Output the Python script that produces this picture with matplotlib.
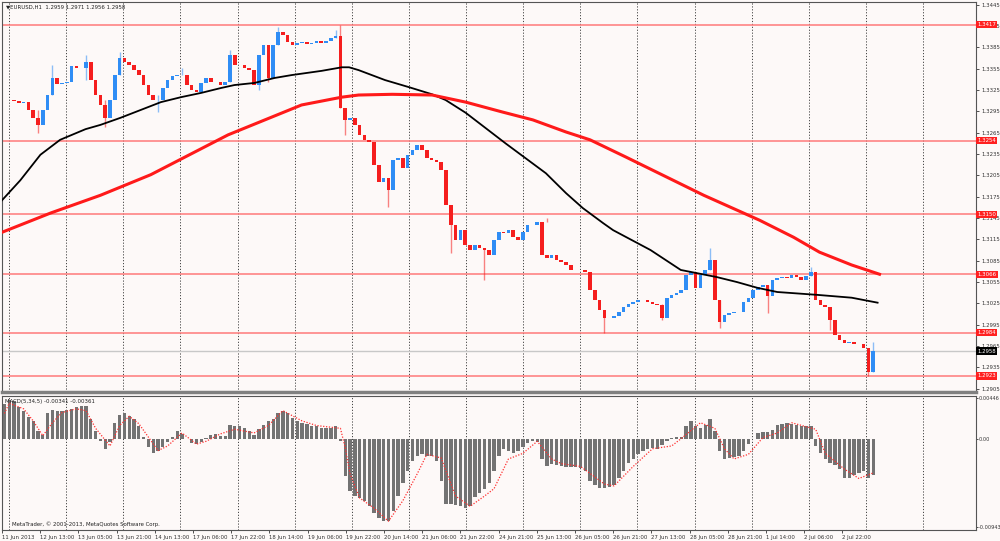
import numpy as np
import matplotlib
matplotlib.use("Agg")
import matplotlib.pyplot as plt
import matplotlib.transforms as mtransforms

plt.rcParams['font.family'] = ['DejaVu Sans']

# EURUSD H1, one candle per two hours, closes
closes = [
    1.3311, 1.3311, 1.3310, 1.3307, 1.3308, 1.3297, 1.3286, 1.3276, 1.3297, 1.3318,
    1.3342, 1.3334, 1.3335, 1.3336, 1.3359, 1.3356, 1.3356, 1.3364, 1.3339, 1.3318,
    1.3304, 1.3286, 1.3311, 1.3346, 1.3370, 1.3364, 1.3360, 1.3353, 1.3346, 1.3332,
    1.3318, 1.3311, 1.3311, 1.3328, 1.3339, 1.3345, 1.3346, 1.3346, 1.3332, 1.3325,
    1.3322, 1.3335, 1.3342, 1.3336, 1.3336, 1.3332, 1.3336, 1.3374, 1.3360, 1.3360,
    1.3356, 1.3353, 1.3332, 1.3374, 1.3388, 1.3342, 1.3388, 1.3407, 1.3402, 1.3393,
    1.3388, 1.3391, 1.3393, 1.3390, 1.3391, 1.3394, 1.3391, 1.3394, 1.3398, 1.3401,
    1.3300, 1.3283, 1.3286, 1.3276, 1.3262, 1.3255, 1.3252, 1.3220, 1.3196, 1.3201,
    1.3184, 1.3227, 1.3229, 1.3215, 1.3234, 1.3241, 1.3248, 1.3241, 1.3229, 1.3227,
    1.3224, 1.3213, 1.3163, 1.3135, 1.3114, 1.3128, 1.3107, 1.3100, 1.3107, 1.3103,
    1.3100, 1.3093, 1.3114, 1.3125, 1.3124, 1.3128, 1.3118, 1.3114, 1.3125, 1.3135,
    1.3135, 1.3139, 1.3093, 1.3089, 1.3093, 1.3086, 1.3083, 1.3079, 1.3072, 1.3072,
    1.3072, 1.3069, 1.3044, 1.3030, 1.3016, 1.3004, 1.3004, 1.3007, 1.3013, 1.3020,
    1.3024, 1.3027, 1.3030, 1.3030, 1.3027, 1.3024, 1.3023, 1.3004, 1.3033, 1.3037,
    1.3040, 1.3044, 1.3065, 1.3069, 1.3047, 1.3065, 1.3072, 1.3086, 1.3030, 1.2999,
    1.3009, 1.3011, 1.3013, 1.3013, 1.3027, 1.3033, 1.3044, 1.3048, 1.3051, 1.3035,
    1.3058, 1.3061, 1.3062, 1.3061, 1.3065, 1.3062, 1.3058, 1.3064, 1.3069, 1.3030,
    1.3023, 1.3020, 1.3002, 1.2981, 1.2974, 1.2969, 1.2971, 1.2968, 1.2968, 1.2962,
    1.2929, 1.2958,
]
first_open = 1.3311

# visible wicks (candle index, high, low)
wick_idx = [7, 10, 17, 21, 24, 32, 37, 47, 53, 55, 57, 69, 70, 71, 80, 93, 100,
            113, 125, 137, 147, 149, 159, 168, 172, 180, 181]
wick_high = [1.3297, 1.3360, 1.3374, 1.3311, 1.3378, 1.3318, 1.3356, 1.3381, 1.3374, 1.3388,
             1.3414, 1.3409, 1.3417, 1.3300, 1.3201, 1.3163, 1.3103, 1.3145, 1.3016, 1.3024,
             1.3103, 1.3030, 1.3051, 1.3076, 1.3020, 1.2962, 1.2971]
wick_low = [1.3265, 1.3318, 1.3339, 1.3273, 1.3346, 1.3294, 1.3346, 1.3336, 1.3325, 1.3336,
            1.3388, 1.3398, 1.3300, 1.3262, 1.3160, 1.3096, 1.3058, 1.3139, 1.2983, 1.3002,
            1.3072, 1.2990, 1.3011, 1.3064, 1.2987, 1.2923, 1.2929]

# moving averages (candle index, price)
ma_black_x = [-0.5, 3.3, 7.5, 11.6, 16.9, 20, 24.2, 28.4, 32.6, 36.8, 41, 45.2, 47.9, 52.1,
              56.3, 59.8, 66.1, 70.3, 71.8, 73.8, 79.3, 84.3, 89.1, 91.9, 96.1, 101.7, 104.4,
              108.6, 112.8, 117, 120.5, 124.7, 126.8, 134.6, 140.9, 148.4, 152.6, 156.8, 161,
              169.3, 176.5, 181.9]
ma_black_y = [1.3170, 1.3198, 1.3234, 1.3255, 1.3270, 1.3276, 1.3286, 1.3297, 1.3308, 1.3315,
              1.3321, 1.3328, 1.3332, 1.3335, 1.3342, 1.3346, 1.3352, 1.3357, 1.3357, 1.3353,
              1.3339, 1.3329, 1.3319, 1.3311, 1.3293, 1.3264, 1.3250, 1.3229, 1.3208, 1.3180,
              1.3159, 1.3138, 1.3128, 1.3100, 1.3072, 1.3062, 1.3055, 1.3047, 1.3041, 1.3037,
              1.3033, 1.3026]
ma_red_x = [-0.5, 9.6, 20, 30.5, 46.6, 61.9, 70.3, 73.8, 80.8, 89.1, 96.1, 103.8, 110.1,
            117, 122, 129.4, 145.7, 157.3, 164.4, 169.8, 176.5, 182.3]
ma_red_y = [1.3125, 1.3152, 1.3177, 1.3206, 1.3262, 1.3304, 1.3315, 1.3318, 1.3319, 1.3318,
            1.3308, 1.3294, 1.3283, 1.3266, 1.3255, 1.3231, 1.3177, 1.3142, 1.3118, 1.3097,
            1.3079, 1.3066]

levels = [1.3417, 1.3254, 1.3150, 1.3066, 1.2984, 1.2923]
last_price = 1.2958

# MACD(5,34,5) histogram, one value per candle
macd_hist = [
    0.0038, 0.0042, 0.0041, 0.0035, 0.0031, 0.0024, 0.0020, 0.0009, 0.0005, 0.0029,
    0.0032, 0.0031, 0.0031, 0.0032, 0.0033, 0.0035, 0.0036, 0.0036, 0.0022, 0.0009,
    -0.0002, -0.0010, -0.0003, 0.0018, 0.0026, 0.0029, 0.0025, 0.0022, 0.0015, 0.0003,
    -0.0008, -0.0015, -0.0012, -0.0008, -0.0003, 0.0003, 0.0009, 0.0006, 0.0001, -0.0004,
    -0.0005, -0.0003, 0.0002, 0.0005, 0.0006, 0.0004, 0.0004, 0.0016, 0.0015, 0.0015,
    0.0012, 0.0009, 0.0005, 0.0011, 0.0016, 0.0020, 0.0022, 0.0028, 0.0031, 0.0028,
    0.0023, 0.0020, 0.0018, 0.0017, 0.0015, 0.0014, 0.0012, 0.0012, 0.0012, 0.0014,
    -0.0002, -0.0039, -0.0056, -0.0061, -0.0063, -0.0066, -0.0072, -0.0079, -0.0085, -0.0088,
    -0.0088, -0.0077, -0.0061, -0.0047, -0.0034, -0.0023, -0.0018, -0.0016, -0.0018, -0.0018,
    -0.0023, -0.0045, -0.0069, -0.0070, -0.0071, -0.0072, -0.0074, -0.0072, -0.0062, -0.0058,
    -0.0053, -0.0047, -0.0034, -0.0018, -0.0010, -0.0012, -0.0015, -0.0012, -0.0008, -0.0004,
    -0.0002, -0.0003, -0.0021, -0.0029, -0.0026, -0.0028, -0.0029, -0.0030, -0.0030, -0.0030,
    -0.0031, -0.0034, -0.0045, -0.0049, -0.0052, -0.0052, -0.0051, -0.0049, -0.0042, -0.0034,
    -0.0025, -0.0021, -0.0016, -0.0012, -0.0010, -0.0009, -0.0010, -0.0006, -0.0002, 0.0002,
    0.0003, 0.0003, 0.0014, 0.0020, 0.0014, 0.0012, 0.0016, 0.0022, 0.0009, -0.0012,
    -0.0021, -0.0020, -0.0019, -0.0018, -0.0012, -0.0005, 0.0001, 0.0007, 0.0008, 0.0008,
    0.0010, 0.0016, 0.0017, 0.0018, 0.0017, 0.0016, 0.0014, 0.0015, 0.0014, -0.0007,
    -0.0015, -0.0021, -0.0025, -0.0028, -0.0032, -0.0041, -0.0041, -0.0038, -0.0036, -0.0034,
    -0.0041, -0.0038,
]
sig_x = [0, 1, 4, 6, 8, 10, 12, 15, 17, 19, 22, 24, 26, 28, 32, 34, 37, 40, 42, 45, 48, 52,
         55, 58, 62, 65, 70, 71, 72, 74, 77, 80, 83, 86, 88, 91, 92, 94, 97, 100, 102, 105,
         108, 111, 114, 116, 120, 125, 127, 131, 135, 139, 141, 145, 148, 150, 152, 155, 158,
         161, 164, 169, 171, 175, 178, 181]
sig_y = [0.0028, 0.0039, 0.0033, 0.0020, 0.0004, 0.0018, 0.0029, 0.0033, 0.0031, 0.0012,
         -0.0007, 0.0015, 0.0025, 0.0017, -0.0012, -0.0007, 0.0007, -0.0005, -0.0002, 0.0006,
         0.0011, 0.0007, 0.0015, 0.0031, 0.0020, 0.0015, 0.0012, -0.0009, -0.0037, -0.0063,
         -0.0074, -0.0088, -0.0066, -0.0037, -0.0016, -0.0020, -0.0034, -0.0061, -0.0072, -0.0061,
         -0.0053, -0.0021, -0.0015, -0.0002, -0.0021, -0.0026, -0.0029, -0.0048, -0.0050, -0.0029,
         -0.0010, -0.0007, 0.0001, 0.0018, 0.0012, -0.0010, -0.0021, -0.0016, 0.0002, 0.0007,
         0.0018, 0.0011, -0.0015, -0.0032, -0.0042, -0.0036]

time_labels = ["11 Jun 2013", "12 Jun 13:00", "13 Jun 05:00", "13 Jun 21:00", "14 Jun 13:00",
               "17 Jun 06:00", "17 Jun 22:00", "18 Jun 14:00", "19 Jun 06:00", "19 Jun 22:00",
               "20 Jun 14:00", "21 Jun 06:00", "21 Jun 22:00", "24 Jun 21:00", "25 Jun 13:00",
               "26 Jun 05:00", "26 Jun 21:00", "27 Jun 13:00", "28 Jun 05:00", "28 Jun 21:00",
               "1 Jul 14:00", "2 Jul 06:00", "2 Jul 22:00"]

BG = '#fdf9f8'
FS = 3.9
fig = plt.figure(figsize=(10, 5.41), dpi=100, facecolor=BG)
ax = fig.add_axes([0.002, 1 - 392 / 541, 0.974, 390 / 541], facecolor=BG)
axm = fig.add_axes([0.002, 1 - 530 / 541, 0.974, 134 / 541], facecolor=BG)

xmax = 202.4
for a in (ax, axm):
    a.set_xlim(-0.5, xmax)
    for s in a.spines.values():
        s.set_color('#555555')
        s.set_linewidth(0.8)
    for gx in np.arange(0.96, xmax, 11.9):
        a.axvline(gx, color='#444444', lw=0.7, ls=(0, (1.2, 1.8)), zorder=1)
ax.spines['bottom'].set_color('#808080')
ax.spines['bottom'].set_linewidth(2.5)

# candles
n = len(closes)
idx = np.arange(n)
opens = np.array([first_open] + closes[:-1])
cl = np.array(closes)
up = cl >= opens
cols = np.where(up, '#2f8df5', '#f51e1e')
ax.vlines(wick_idx, wick_low, wick_high,
          colors=[cols[i] for i in wick_idx], lw=1.0, alpha=0.55, zorder=3)
ax.bar(idx, cl - opens, bottom=opens, width=0.75, color=cols, zorder=4)

ax.plot(ma_black_x, ma_black_y, color='black', lw=1.3, zorder=5)
ax.plot(ma_red_x, ma_red_y, color='#ff1a1a', lw=2.2, zorder=5)

for lv in levels:
    ax.axhline(lv, color='#ff7a7a', lw=1.1, zorder=2)
ax.axhline(last_price, color='#c8c8c8', lw=1.0, zorder=2)

ax.set_ylim(1.29004, 1.34488)
ax.set_xticks([])
ax.yaxis.tick_right()
ticks = np.arange(1.2905, 1.34451, 0.003)
ax.set_yticks(ticks)
ax.set_yticklabels(['%.4f' % t for t in ticks])
ax.tick_params(axis='y', labelsize=FS, length=2.5, pad=1.5, colors='#333333', width=0.6)

tr = mtransforms.blended_transform_factory(ax.transAxes, ax.transData)
for lv in levels:
    ax.text(1.0015, lv, '%.4f' % lv, transform=tr, fontsize=FS, color='white',
            va='center', ha='left', clip_on=False, zorder=20,
            bbox=dict(boxstyle='square,pad=0.2', fc='#ff2020', ec='none'))
ax.text(1.0015, last_price, '%.4f' % last_price, transform=tr, fontsize=FS, color='white',
        va='center', ha='left', clip_on=False, zorder=20,
        bbox=dict(boxstyle='square,pad=0.2', fc='black', ec='none'))

ax.text(0.004, 0.993, '\u25bcEURUSD,H1  1.2959 1.2971 1.2956 1.2958', transform=ax.transAxes,
        fontsize=FS, color='#222222', va='top', ha='left')

# MACD panel
axm.bar(idx, macd_hist, width=0.7, color='#737373', zorder=3)
axm.plot(sig_x, sig_y, color='#ff3030', lw=0.9, ls=(0, (1, 1.3)), zorder=4)
axm.set_ylim(-0.00975, 0.00468)
axm.yaxis.tick_right()
axm.set_yticks([-0.00943, 0.0, 0.00446])
axm.set_yticklabels(['-0.00943', '0.00', '0.00446'])
axm.tick_params(axis='y', labelsize=3.6, length=1.5, pad=0.3, colors='#333333', width=0.6)

tick_pos = [-0.5 + 7.958 * j for j in range(len(time_labels))]
axm.set_xticks(tick_pos)
axm.set_xticklabels(time_labels)
for lab in axm.get_xticklabels():
    lab.set_horizontalalignment('left')
axm.tick_params(axis='x', labelsize=FS, length=2.5, pad=1, colors='#333333', width=0.6)

axm.text(0.003, 0.975, 'MACD(5,34,5) -0.00341 -0.00361', transform=axm.transAxes,
         fontsize=FS, color='#222222', va='top', ha='left')
axm.text(0.01, 0.025, 'MetaTrader, \u00a9 2001-2013, MetaQuotes Software Corp.',
         transform=axm.transAxes, fontsize=FS, color='#222222', va='bottom', ha='left')

fig.savefig('out.png', dpi=100, facecolor=BG)
